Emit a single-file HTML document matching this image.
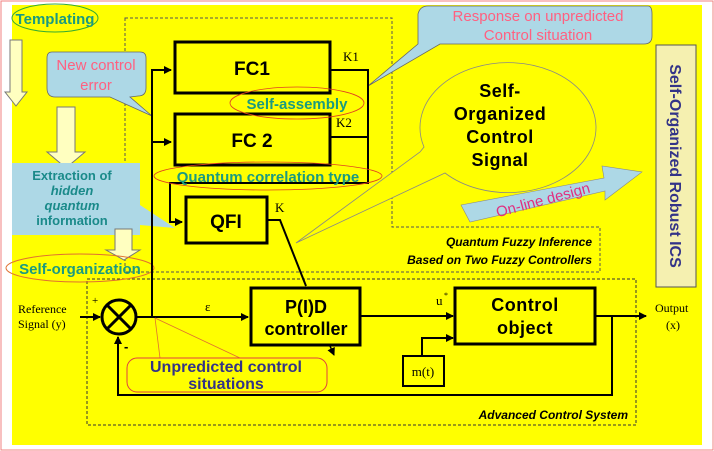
<!DOCTYPE html>
<html><head><meta charset="utf-8"><style>
html,body{margin:0;padding:0;background:#fff}
svg{display:block}
text{font-family:"Liberation Sans",sans-serif}
.s{font-family:"Liberation Serif",serif}
</style></head><body>
<svg width="714" height="451" viewBox="0 0 714 451" xmlns="http://www.w3.org/2000/svg">
<defs>
<marker id="a" markerWidth="8" markerHeight="8" refX="7" refY="4" orient="auto" markerUnits="userSpaceOnUse"><path d="M0,0 L8,4 L0,8 Z" fill="#000"/></marker>
</defs>
<rect x="0" y="0" width="714" height="451" fill="#fff"/>
<rect x="1" y="1" width="712" height="449" fill="none" stroke="#f08080" stroke-width="1"/>
<rect x="12" y="5" width="690" height="440" fill="#ffff00"/>

<path d="M125,18 L392,18 L392,227 L600,227 L600,272 L125,272 Z" fill="none" stroke="#555" stroke-dasharray="3,2"/>
<rect x="87" y="279" width="549" height="146" fill="none" stroke="#333" stroke-dasharray="3,2"/>

<ellipse cx="55" cy="18" rx="43" ry="14" fill="none" stroke="#3a3"/>
<text x="55" y="24" font-size="15" font-weight="bold" fill="#1a9a80" text-anchor="middle">Templating</text>
<path d="M10,40 L22,40 L22,92 L27,92 L16,106 L5,92 L10,92 Z" fill="#ffffc0" stroke="#777"/>
<path d="M57,107 L75,107 L75,152 L85,152 L66,168 L47,152 L57,152 Z" fill="#ffffc0" stroke="#777"/>

<path d="M12,163 L140,163 L140,205 L175,228 L140,225 L140,235 L12,235 Z" fill="#add8e6"/>
<text x="72" y="180" font-size="13" font-weight="bold" fill="#1a8a8a" text-anchor="middle">Extraction of</text>
<text x="72" y="195" font-size="13" font-weight="bold" font-style="italic" fill="#1a8a8a" text-anchor="middle">hidden</text>
<text x="72" y="210" font-size="13" font-weight="bold" font-style="italic" fill="#1a8a8a" text-anchor="middle">quantum</text>
<text x="72" y="225" font-size="13" font-weight="bold" fill="#1a8a8a" text-anchor="middle">information</text>
<path d="M115,229 L132,229 L132,250 L140,250 L124,260 L106,250 L115,250 Z" fill="#ffffc0" stroke="#777"/>
<ellipse cx="80" cy="268" rx="74" ry="14" fill="none" stroke="#e07030"/>
<text x="80" y="274" font-size="15" font-weight="bold" fill="#1a9a80" text-anchor="middle">Self-organization</text>

<path d="M52,52 L140,52 Q146,52 146,58 L146,88 Q146,96 138,96 L130,97 L152,116 L110,97 L55,97 Q47,97 47,88 L47,58 Q47,52 52,52 Z" fill="#add8e6" stroke="#666" stroke-width="0.8"/>
<text x="96" y="70" font-size="15" fill="#ff6080" text-anchor="middle">New control</text>
<text x="96" y="90" font-size="15" fill="#ff6080" text-anchor="middle">error</text>

<path d="M428,6 L648,6 Q652,6 652,14 L652,36 Q652,44 644,44 L440,44 L368,86 L418,44 Q418,44 418,36 L418,14 Q420,6 428,6 Z" fill="#add8e6" stroke="#666" stroke-width="0.8"/>
<text x="538" y="21" font-size="15" fill="#ff6080" text-anchor="middle">Response on unpredicted</text>
<text x="538" y="40" font-size="15" fill="#ff6080" text-anchor="middle">Control situation</text>

<path d="M424,147 A88,65 0 1,1 445,173 L296,243 L420,152 Z" fill="#ffff00" stroke="#888" stroke-width="0.8"/>
<text x="500" y="97" font-size="18" font-weight="bold" text-anchor="middle" letter-spacing="0.5">Self-</text>
<text x="500" y="120" font-size="18" font-weight="bold" text-anchor="middle" letter-spacing="0.5">Organized</text>
<text x="500" y="143" font-size="18" font-weight="bold" text-anchor="middle" letter-spacing="0.5">Control</text>
<text x="500" y="166" font-size="18" font-weight="bold" text-anchor="middle" letter-spacing="0.5">Signal</text>

<path d="M461,205 L604,178 L602,166 L642,172 L605,200 L605,191 L470,222 Z" fill="#add8e6" stroke="#888" stroke-width="0.6"/>
<text x="543" y="205" font-size="15" fill="#e03080" text-anchor="middle" transform="rotate(-15 543 200)">On-line design</text>

<rect x="656" y="45" width="40" height="242" fill="#f5f0b0" stroke="#555"/>
<text x="676" y="166" font-size="16" font-weight="bold" fill="#333388" text-anchor="middle" transform="rotate(90 676 166)" dy="6">Self-Organized Robust ICS</text>

<rect x="175" y="42" width="155" height="51" fill="#ffff00" stroke="#000" stroke-width="3"/>
<text x="252" y="75" font-size="19" font-weight="bold" text-anchor="middle">FC1</text>
<rect x="175" y="114" width="155" height="51" fill="#ffff00" stroke="#000" stroke-width="3"/>
<text x="252" y="147" font-size="19" font-weight="bold" text-anchor="middle">FC 2</text>
<rect x="186" y="197" width="81" height="46" fill="#ffff00" stroke="#000" stroke-width="3"/>
<text x="226" y="228" font-size="19" font-weight="bold" text-anchor="middle">QFI</text>

<text class="s" x="343" y="61" font-size="13">K1</text>
<text class="s" x="336" y="127" font-size="13">K2</text>
<text class="s" x="275" y="212" font-size="13">K</text>
<g stroke="#000" stroke-width="2" fill="none">
<path d="M331,70 L368,70 L368,183 L170,183 L170,222 L182,222" marker-end="url(#a)"/>
<path d="M331,137 L368,137"/>
<path d="M152,318 L152,70 L171,70" marker-end="url(#a)"/>
<path d="M152,142 L171,142" marker-end="url(#a)"/>
<path d="M268,220 L280,220 L306,286"/>
</g>

<ellipse cx="297" cy="103" rx="67" ry="16" fill="none" stroke="#e04020" stroke-width="0.8"/>
<text x="297" y="109" font-size="15" font-weight="bold" fill="#1a9a80" text-anchor="middle">Self-assembly</text>
<ellipse cx="268" cy="176" rx="114" ry="14" fill="none" stroke="#e04020" stroke-width="0.8"/>
<text x="268" y="182" font-size="15" font-weight="bold" fill="#1a9a80" text-anchor="middle">Quantum correlation type</text>

<text x="592" y="246" font-size="12" font-weight="bold" font-style="italic" text-anchor="end">Quantum Fuzzy Inference</text>
<text x="592" y="264" font-size="12" font-weight="bold" font-style="italic" text-anchor="end">Based on Two Fuzzy Controllers</text>
<text x="628" y="419" font-size="12" font-weight="bold" font-style="italic" text-anchor="end">Advanced Control System</text>

<text class="s" x="18" y="313" font-size="12">Reference</text>
<text class="s" x="18" y="328" font-size="12">Signal (y)</text>
<text class="s" x="92" y="304" font-size="11">+</text>
<text x="124" y="351" font-size="13" font-weight="bold">-</text>
<circle cx="119" cy="317" r="17" fill="none" stroke="#000" stroke-width="3"/>
<path d="M107,305 L131,329 M131,305 L107,329" stroke="#000" stroke-width="3"/>
<g stroke="#000" stroke-width="2" fill="none">
<path d="M80,317 L100,317" marker-end="url(#a)"/>
<path d="M136,317 L248,317" marker-end="url(#a)"/>
<path d="M361,316 L453,316" marker-end="url(#a)"/>
<path d="M596,316 L646,316" marker-end="url(#a)"/>
<path d="M612,316 L612,395 L118,395 L118,337" marker-end="url(#a)"/>
<path d="M422,355 L422,338 L453,338" marker-end="url(#a)"/>
</g>
<path d="M330,346 L334,355" stroke="#000" stroke-width="1.5" marker-end="url(#a)"/>
<text class="s" x="205" y="311" font-size="13">ε</text>
<text class="s" x="436" y="305" font-size="13">u</text><text class="s" x="444" y="298" font-size="8">*</text>
<text class="s" x="655" y="312" font-size="12">Output</text>
<text class="s" x="666" y="329" font-size="12">(x)</text>

<rect x="251" y="288" width="109" height="57" fill="#ffff00" stroke="#000" stroke-width="3"/>
<text x="306" y="313" font-size="18" font-weight="bold" text-anchor="middle">P(I)D</text>
<text x="306" y="335" font-size="18" font-weight="bold" text-anchor="middle">controller</text>
<rect x="455" y="288" width="140" height="56" fill="#ffff00" stroke="#000" stroke-width="3"/>
<text x="525" y="311" font-size="18" font-weight="bold" text-anchor="middle" letter-spacing="0.5">Control</text>
<text x="525" y="334" font-size="18" font-weight="bold" text-anchor="middle" letter-spacing="0.5">object</text>
<rect x="403" y="356" width="41" height="30" fill="#ffff00" stroke="#000" stroke-width="2"/>
<text class="s" x="423" y="376" font-size="13" text-anchor="middle">m(t)</text>

<path d="M155,318 L160,358 M155,318 L240,358" stroke="#e07030" stroke-width="0.8"/>
<rect x="127" y="358" width="200" height="34" rx="10" fill="#ffff00" stroke="#e04040" stroke-width="1"/>
<text x="226" y="372" font-size="16" font-weight="bold" fill="#333388" text-anchor="middle">Unpredicted control</text>
<text x="226" y="389" font-size="16" font-weight="bold" fill="#333388" text-anchor="middle">situations</text>
</svg>
</body></html>
